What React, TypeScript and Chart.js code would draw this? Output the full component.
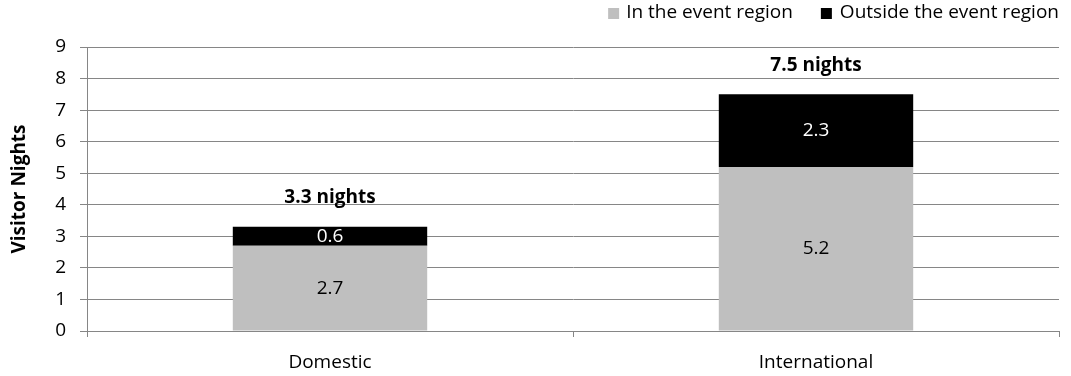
import React, { useEffect, useRef } from "react";
import { Chart, registerables } from "chart.js";

Chart.register(...registerables);

const categories = ["Domestic", "International"];
const inRegion = [2.7, 5.2];
const outsideRegion = [0.6, 2.3];
const totals = [3.3, 7.5];
const seriesNames = ["In the event region", "Outside the event region"];
const yTicks = [0, 1, 2, 3, 4, 5, 6, 7, 8, 9];

const FONT = "'Open Sans', sans-serif";
const FS = 19;
const GRAY = "#bfbfbf";
const BLACK = "#000000";
const GRID = "#868686";

const labelPlugin = {
  id: "labels",
  afterDatasetsDraw(chart: any) {
    const ctx = chart.ctx;
    ctx.save();
    ctx.font = `${FS}px ${FONT}`;
    ctx.textAlign = "center";
    ctx.textBaseline = "middle";
    chart.data.datasets.forEach((ds: any, di: number) => {
      const meta = chart.getDatasetMeta(di);
      meta.data.forEach((bar: any, i: number) => {
        const y = (bar.y + bar.base) / 2;
        ctx.fillStyle = di === 0 ? "#000" : "#fff";
        ctx.fillText(String(ds.data[i]), bar.x, y);
      });
    });
    // totals
    const meta1 = chart.getDatasetMeta(1);
    ctx.font = `bold ${FS}px ${FONT}`;
    ctx.fillStyle = "#000";
    meta1.data.forEach((bar: any, i: number) => {
      ctx.fillText(`${totals[i]} nights`, bar.x, bar.y - 29);
    });
    // legend
    ctx.font = `${FS}px ${FONT}`;
    ctx.textAlign = "left";
    const right = chart.chartArea.right;
    const y = 13;
    const w1 = ctx.measureText(seriesNames[0]).width;
    const w2 = ctx.measureText(seriesNames[1]).width;
    let x = right - w2;
    ctx.fillStyle = BLACK;
    ctx.fillRect(x - 19, y - 5, 11, 11);
    ctx.fillText(seriesNames[1], x, y);
    x = x - 19 - 28 - w1;
    ctx.fillStyle = GRAY;
    ctx.fillRect(x - 18, y - 5, 11, 11);
    ctx.fillStyle = "#000";
    ctx.fillText(seriesNames[0], x, y);
    ctx.restore();
  },
};

export default function App() {
  const ref = useRef<HTMLCanvasElement>(null);
  useEffect(() => {
    document.body.style.margin = "0";
    const chart = new Chart(ref.current!, {
      type: "bar",
      data: {
        labels: categories,
        datasets: [
          { label: seriesNames[0], data: inRegion, backgroundColor: GRAY, barPercentage: 0.4, categoryPercentage: 1 },
          { label: seriesNames[1], data: outsideRegion, backgroundColor: BLACK, barPercentage: 0.4, categoryPercentage: 1 },
        ],
      },
      options: {
        animation: false,
        responsive: false,
        maintainAspectRatio: false,
        layout: { padding: { top: 47, right: 12, bottom: 0, left: 0 } },
        plugins: { legend: { display: false }, tooltip: { enabled: false } },
        scales: {
          x: {
            stacked: true,
            grid: { drawOnChartArea: false, drawTicks: true, tickLength: 6, color: GRID, offset: true },
            border: { display: false },
            ticks: { color: "#000", font: { family: FONT, size: FS }, padding: 14 },
            afterFit: (s: any) => { s.height = 45; },
          },
          y: {
            stacked: true,
            min: 0,
            max: 9,
            afterBuildTicks: (s: any) => { s.ticks = yTicks.map((v) => ({ value: v })); },
            grid: { color: GRID, tickLength: 7, lineWidth: 1 },
            border: { color: GRID, width: 1 },
            ticks: { color: "#000", font: { family: FONT, size: FS }, padding: 14 },
            title: { display: true, text: "Visitor Nights", color: "#000", font: { family: FONT, size: FS, weight: "bold" }, padding: { top: 8, bottom: 0 } },
            afterFit: (s: any) => { s.width = 87; },
          },
        },
      },
      plugins: [labelPlugin],
    });
    return () => chart.destroy();
  }, []);
  return (
    <div style={{ width: 1071, height: 376 }}>
      <canvas ref={ref} width={1071} height={376} />
    </div>
  );
}
